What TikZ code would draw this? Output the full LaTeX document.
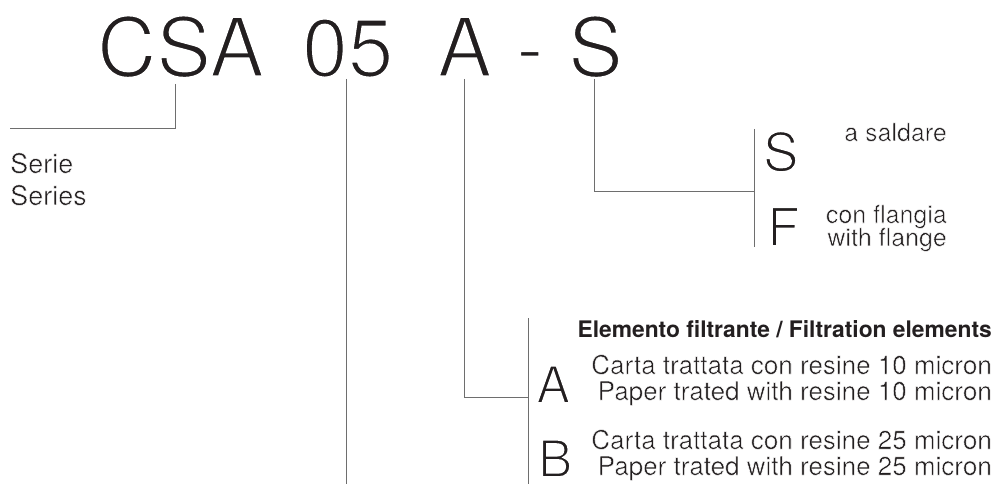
\documentclass[tikz,border=0pt]{standalone}
\usepackage{fontspec}
\setmainfont{TeX Gyre Heros}
\definecolor{ink}{HTML}{231F20}
\definecolor{rulec}{HTML}{6E6E6E}
% thin the glyphs with a white outline stroke (imitates a light weight)
\newcommand\thinby[2]{\special{pdf:literal direct 2 Tr 1 1 1 RG #1 w}#2\special{pdf:literal direct 0 Tr}}
\begin{document}
\begin{tikzpicture}[x=1pt,y=-1pt,
  conn/.style={draw=rulec,line width=1pt},
  txt/.style={inner sep=0pt,text=ink},
  big/.style={txt,anchor=base west,font=\fontsize{82}{82}\selectfont},
  letter/.style={txt,anchor=base west,font=\fontsize{53}{53}\selectfont},
  desc/.style={txt,anchor=base east,font=\fontsize{25}{25}\selectfont},
  desc2/.style={txt,anchor=base east,font=\fontsize{26}{26}\selectfont},
  serie/.style={txt,anchor=base west,font=\fontsize{27}{27}\selectfont}]
\useasboundingbox (0,0) rectangle (997,484);
% code
\node[big] (csa) at (97,76.5) {\thinby{2.3}{CSA}};
\node[big] (n05) at (302,76.5) {\thinby{2.3}{05}};
\node[big] (ca) at (437,76.5) {\thinby{2.3}{A}};
\node[big] (dash) at (516,76.5) {\thinby{2.3}{-}};
\node[big] (cs) at (568,76.5) {\thinby{2.3}{S}};
% serie
\node[serie] (serie) at (10,173) {\thinby{0.5}{Serie}};
\node[serie] (series) at (10,205) {\thinby{0.5}{Series}};
% S / F
\node[letter] (ls) at (763,171) {\thinby{1.6}{S}};
\node[letter] (lf) at (767,246) {\thinby{1.6}{F}};
\node[desc] (sald) at (947,141) {\thinby{0.5}{a saldare}};
\node[desc] (fl1) at (947,223) {\thinby{0.5}{con flangia}};
\node[desc] (fl2) at (947,246) {\thinby{0.5}{with flange}};
% A / B
\node[txt,anchor=base east,font=\bfseries\fontsize{22.8}{22.8}\selectfont] (head) at (992,337) {Elemento filtrante / Filtration elements};
\node[letter,font=\fontsize{51}{51}\selectfont] (la) at (536,403) {\thinby{1.6}{A}};
\node[letter,font=\fontsize{51}{51}\selectfont] (lb) at (538,477) {\thinby{1.6}{B}};
\node[desc2] (a1) at (992,374) {\thinby{0.5}{Carta trattata con resine 10 micron}};
\node[desc2] (a2) at (992,400) {\thinby{0.5}{Paper trated with resine 10 micron}};
\node[desc2] (b1) at (992,449) {\thinby{0.5}{Carta trattata con resine 25 micron}};
\node[desc2] (b2) at (992,475) {\thinby{0.5}{Paper trated with resine 25 micron}};
% connector points
\coordinate (csaTop) at (175,84);
\coordinate (csaEnd) at (10,129);
\coordinate (nTop) at (346,79);
\coordinate (nEnd) at (346,484);
\coordinate (aTop) at (464.5,79);
\coordinate (aEnd) at (528,397);
\coordinate (abTop) at (528,318);
\coordinate (abBot) at (528,484);
\coordinate (sTop) at (594,79);
\coordinate (sEnd) at (754,192);
\coordinate (sfTop) at (754,129);
\coordinate (sfBot) at (754,247);
\draw[conn] (csaTop) |- (csaEnd);
\draw[conn] (nTop) -- (nEnd);
\draw[conn] (aTop) |- (aEnd);
\draw[conn] (abTop) -- (abBot);
\draw[conn] (sTop) |- (sEnd);
\draw[conn] (sfTop) -- (sfBot);
\end{tikzpicture}
\end{document}
